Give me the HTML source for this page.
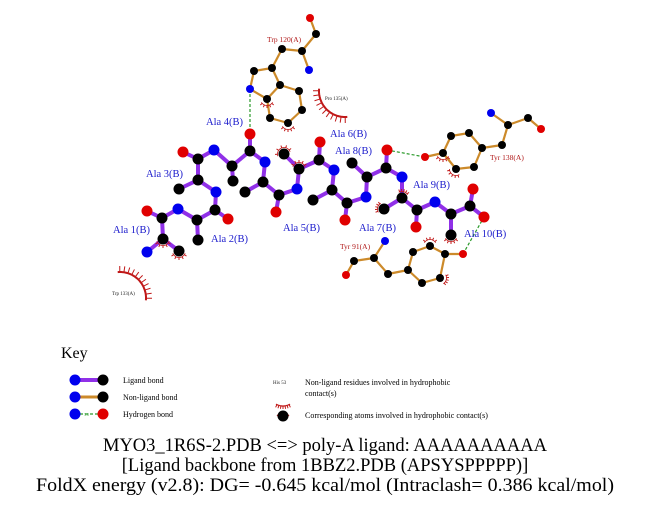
<!DOCTYPE html>
<html><head><meta charset="utf-8"><style>
html,body{margin:0;padding:0;background:#fff;}
svg{display:block;font-family:"Liberation Serif",serif;}
</style></head><body>
<svg id="s" width="651" height="511" viewBox="0 0 651 511" xmlns="http://www.w3.org/2000/svg">
<g id="hb" stroke="#2a9a2a" stroke-width="1.2" stroke-dasharray="3,2" fill="none">
<line x1="250" y1="89" x2="250" y2="134"/>
<line x1="387" y1="150" x2="425" y2="157"/>
<line x1="463" y1="254" x2="484" y2="217"/>
</g>
<g id="bonds"></g>
<g id="hyd" stroke="#c01818" stroke-width="1.4" fill="none"></g>
<g id="atoms"></g>
<g fill="#1a1acc" font-size="10.5">
<text x="206" y="125">Ala 4(B)</text>
<text x="146" y="177">Ala 3(B)</text>
<text x="113" y="233">Ala 1(B)</text>
<text x="211" y="242">Ala 2(B)</text>
<text x="283" y="231">Ala 5(B)</text>
<text x="330" y="137">Ala 6(B)</text>
<text x="335" y="154">Ala 8(B)</text>
<text x="413" y="188">Ala 9(B)</text>
<text x="359" y="231">Ala 7(B)</text>
<text x="464" y="237">Ala 10(B)</text>
</g>
<g fill="#b01818" font-size="7.5">
<text x="267" y="42">Trp 120(A)</text>
<text x="490" y="160">Tyr 138(A)</text>
<text x="340" y="249">Tyr 91(A)</text>
</g>
<g fill="#222" font-size="5">
<text x="325" y="100">Pro 135(A)</text>
<text x="112" y="295">Trp 133(A)</text>
<text x="273" y="384">His 53</text>
</g>
<text x="61" y="358" font-size="16" fill="#000">Key</text>
<g font-size="8" fill="#000">
<text x="123" y="383">Ligand bond</text>
<text x="123" y="400">Non-ligand bond</text>
<text x="123" y="417">Hydrogen bond</text>
<text x="305" y="385">Non-ligand residues involved in hydrophobic</text>
<text x="305" y="396">contact(s)</text>
<text x="305" y="418">Corresponding atoms involved in hydrophobic contact(s)</text>
</g>
<line x1="75" y1="380" x2="103" y2="380" stroke="#9030e8" stroke-width="4"/>
<line x1="75" y1="397" x2="103" y2="397" stroke="#cc8a2a" stroke-width="3"/>
<line x1="75" y1="414" x2="103" y2="414" stroke="#2a9a2a" stroke-width="1.2" stroke-dasharray="3,2"/>
<text x="84" y="416" font-size="4" fill="#2a9a2a">3.0</text>
<circle cx="75" cy="380" r="5.5" fill="#0000ee"/><circle cx="103" cy="380" r="5.5" fill="#000"/>
<circle cx="75" cy="397" r="5.5" fill="#0000ee"/><circle cx="103" cy="397" r="5.5" fill="#000"/>
<circle cx="75" cy="414" r="5.5" fill="#0000ee"/><circle cx="103" cy="414" r="5.5" fill="#e00000"/>
<circle cx="283" cy="416" r="5.5" fill="#000"/>
<g text-anchor="middle" font-size="18.5" fill="#000">
<text x="325" y="451">MYO3_1R6S-2.PDB &lt;=&gt; poly-A ligand: AAAAAAAAAA</text>
<text x="325" y="471">[Ligand backbone from 1BBZ2.PDB (APSYSPPPPP)]</text>
<text x="325" y="491" textLength="578" lengthAdjust="spacingAndGlyphs">FoldX energy (v2.8): DG= -0.645 kcal/mol (Intraclash= 0.386 kcal/mol)</text>
</g>
</svg>
<script>
var NS="http://www.w3.org/2000/svg";
function el(p,t,a){var e=document.createElementNS(NS,t);for(var k in a)e.setAttribute(k,a[k]);document.getElementById(p).appendChild(e);return e;}
var A={
// Trp120
tO:[310,18,'r'],tC:[316,34,'k'],tCA:[302,51,'k'],tN:[309,70,'b'],tCB:[282,49,'k'],tCG:[272,68,'k'],tCD1:[254,71,'k'],tNE1:[250,89,'b'],tCE2:[267,99,'k'],tCD2:[280,85,'k'],tCE3:[299,91,'k'],tCZ3:[302,110,'k'],tCH2:[288,123,'k'],tCZ2:[270,118,'k'],
// Tyr138
yOH:[425,157,'r'],yCZ:[443,153,'k'],yCE1:[451,136,'k'],yCD1:[469,133,'k'],yCG:[482,148,'k'],yCD2:[474,167,'k'],yCE2:[456,169,'k'],yCB:[502,145,'k'],yCA:[508,125,'k'],yN:[491,113,'b'],yC:[528,118,'k'],yO:[541,129,'r'],
// Tyr91
wO:[346,275,'r'],wC:[354,261,'k'],wCA:[374,258,'k'],wN:[385,241,'b'],wCB:[388,274,'k'],wCG:[408,270,'k'],wCD1:[413,252,'k'],wCE1:[430,246,'k'],wCZ:[445,254,'k'],wCD2:[422,283,'k'],wCE2:[440,278,'k'],wOH:[463,254,'r'],
// ligand
N1:[147,252,'b'],CA1:[163,239,'k'],CB1:[179,251,'k'],C1:[162,218,'k'],O1:[147,211,'r'],
N2:[178,209,'b'],CA2:[197,220,'k'],CB2:[198,240,'k'],C2:[215,210,'k'],O2:[228,219,'r'],
N3:[216,192,'b'],CA3:[198,180,'k'],CB3:[179,189,'k'],C3:[198,159,'k'],O3:[183,152,'r'],
N4:[214,150,'b'],CA4:[232,166,'k'],CB4:[233,181,'k'],C4:[250,151,'k'],O4:[250,134,'r'],
N5:[265,162,'b'],CA5:[263,182,'k'],CB5:[245,192,'k'],C5:[279,195,'k'],O5:[276,212,'r'],
N6:[297,189,'b'],CA6:[299,169,'k'],CB6:[284,154,'k'],C6:[319,160,'k'],O6:[320,142,'r'],
N7:[334,170,'b'],CA7:[332,190,'k'],CB7:[313,200,'k'],C7:[347,203,'k'],O7:[345,220,'r'],
N8:[366,197,'b'],CA8:[367,177,'k'],CB8:[352,163,'k'],C8:[386,168,'k'],O8:[387,150,'r'],
N9:[402,177,'b'],CA9:[402,198,'k'],CB9:[384,209,'k'],C9:[417,210,'k'],O9:[416,227,'r'],
N10:[435,202,'b'],CA10:[451,214,'k'],CB10:[451,235,'k'],C10:[470,206,'k'],O10:[473,189,'r'],OXT:[484,217,'r']};
var nl="tO-tC tC-tCA tCA-tN tCA-tCB tCB-tCG tCG-tCD1 tCD1-tNE1 tNE1-tCE2 tCE2-tCD2 tCD2-tCG tCD2-tCE3 tCE3-tCZ3 tCZ3-tCH2 tCH2-tCZ2 tCZ2-tCE2 yOH-yCZ yCZ-yCE1 yCE1-yCD1 yCD1-yCG yCG-yCD2 yCD2-yCE2 yCE2-yCZ yCG-yCB yCB-yCA yCA-yN yCA-yC yC-yO wO-wC wC-wCA wCA-wN wCA-wCB wCB-wCG wCG-wCD1 wCD1-wCE1 wCE1-wCZ wCZ-wCE2 wCE2-wCD2 wCD2-wCG wCZ-wOH".split(' ');
nl.forEach(function(b){var p=b.split('-'),a=A[p[0]],c=A[p[1]];el('bonds','line',{x1:a[0],y1:a[1],x2:c[0],y2:c[1],stroke:'#cc8a2a','stroke-width':2.2});});
var lb=[];
for(var i=1;i<=10;i++){lb.push(['N'+i,'CA'+i],['CA'+i,'CB'+i],['CA'+i,'C'+i]);if(i<10){lb.push(['C'+i,'O'+i],['C'+i,'N'+(i+1)]);}}
lb.push(['C10','O10'],['C10','OXT']);
lb.forEach(function(p){var a=A[p[0]],c=A[p[1]];el('bonds','line',{x1:a[0],y1:a[1],x2:c[0],y2:c[1],stroke:'#9030e8','stroke-width':4});});
var col={r:'#e00000',b:'#0000ee',k:'#000'};
for(var k in A){var a=A[k];var sm=k[0]=='t'||k[0]=='y'||k[0]=='w';el('atoms','circle',{cx:a[0],cy:a[1],r:sm?4:5.5,fill:col[a[2]]});}
function arc(cx,cy,r,a0,a1,n,len,w){var d='';for(var i=0;i<=40;i++){var t=(a0+(a1-a0)*i/40)*Math.PI/180;d+=(i?'L':'M')+(cx+r*Math.cos(t)).toFixed(1)+' '+(cy+r*Math.sin(t)).toFixed(1);}
el('hyd','path',{d:d,'stroke-width':w});
for(var j=0;j<n;j++){var t=(a0+(a1-a0)*(j+0.5)/n)*Math.PI/180;el('hyd','line',{x1:cx+r*Math.cos(t),y1:cy+r*Math.sin(t),x2:cx+(r+len)*Math.cos(t),y2:cy+(r+len)*Math.sin(t),'stroke-width':1});}}
arc(345,91,26,185,85,11,6,2);
arc(120,298,26,-95,5,11,6,2);
arc(283,392,14,60,120,7,3,1.2);
function mark(k,a0,a1){var a=A[k];arc(a[0],a[1],6.5,a0,a1,5,2.5,0.8);}
mark('CA1',20,160);mark('CB1',20,160);mark('CB6',-200,-20);mark('CA6',-160,-20);mark('CB9',150,240);mark('CA9',-120,-30);mark('CB10',30,150);
mark('tCE2',30,150);mark('tCH2',30,150);mark('yCZ',30,150);mark('yCE2',60,180);mark('wCE1',-150,-30);mark('wCE2',-30,60);
el('hyd','path',{d:'M277 416 A7 7 0 0 1 289 416','stroke-width':1});
</script>
</body></html>
